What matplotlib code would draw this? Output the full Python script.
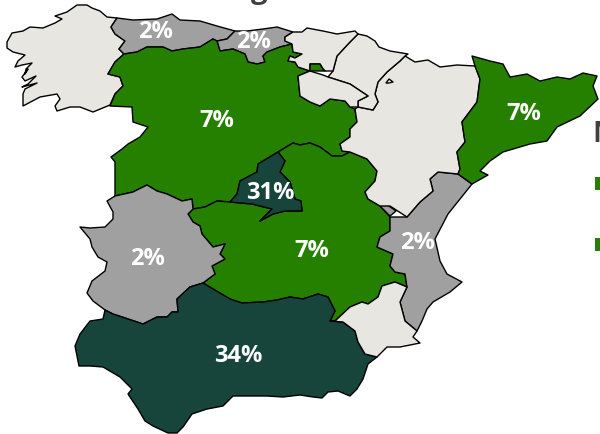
import matplotlib
matplotlib.use("Agg")
import matplotlib.pyplot as plt
from matplotlib.patches import Polygon, Rectangle

GREEN = "#268000"
DARK = "#17453B"
GRAY = "#A0A0A0"
BEIGE = "#E8E6E1"

galicia = [(7,43),(12,34),(23,32),(30,28),(43,29),(55,24),(62,20),(55,17),(67,13),(77,6),(87,6),(92,9),(100,12),(107,18),(117,19),(111,28),(115,35),(125,42),(119,50),(124,55),(115,63),(108,75),(120,78),(123,87),(115,95),(110,106),(93,113),(80,108),(70,108),(57,112),(55,107),(60,100),(57,95),(40,98),(23,107),(23,95),(25,90),(37,84),(22,88),(28,85),(36,77),(25,82),(22,78),(28,70),(25,75),(26,70),(32,64),(22,66),(15,68),(18,62),(25,56),(13,53),(7,49)]
asturias = [(117,19),(133,21),(157,20),(172,15),(180,21),(200,22),(217,27),(235,32),(227,40),(217,42),(213,40),(200,48),(183,50),(172,52),(163,48),(147,48),(137,53),(124,55),(119,50),(125,42),(115,35),(111,28)]
cantabria = [(235,32),(247,32),(263,30),(277,28),(293,33),(285,38),(285,42),(292,45),(280,48),(267,53),(263,57),(265,63),(257,65),(248,63),(245,55),(233,50),(220,52),(217,42),(227,40)]
castilla_leon = [(124,55),(137,53),(147,48),(163,48),(172,52),(183,50),(200,48),(213,40),(217,42),(220,52),(233,50),(245,55),(248,63),(257,65),(265,63),(263,57),(267,53),(280,48),(292,45),(293,53),(302,55),(295,59),(290,57),(288,62),(295,63),(298,68),(310,72),(298,77),(300,97),(310,103),(320,107),(330,100),(345,102),(350,108),(355,110),(357,123),(350,130),(350,138),(340,145),(342,152),(350,153),(342,157),(332,157),(320,148),(310,144),(300,146),(293,144),(278,153),(258,165),(257,173),(240,182),(237,195),(230,203),(217,202),(205,208),(193,210),(192,200),(182,202),(167,195),(157,192),(147,186),(133,193),(115,197),(115,183),(115,163),(111,158),(122,150),(128,145),(140,138),(148,128),(133,123),(132,108),(110,107),(115,95),(123,87),(120,78),(108,75),(115,63)]
madrid = [(278,153),(285,162),(280,173),(290,183),(295,200),(301,202),(302,212),(285,212),(273,215),(260,222),(272,210),(252,205),(230,203),(237,195),(240,182),(257,173),(258,165)]
castilla_mancha = [(193,210),(205,208),(217,202),(230,203),(252,205),(272,210),(260,222),(273,215),(285,212),(302,212),(301,202),(295,200),(290,183),(280,173),(285,162),(278,153),(293,144),(300,146),(310,144),(320,148),(332,157),(342,157),(350,153),(367,160),(377,172),(375,182),(365,193),(368,200),(380,207),(390,218),(390,232),(380,238),(377,248),(393,255),(390,267),(395,273),(405,275),(407,288),(395,283),(382,287),(378,298),(368,305),(362,303),(350,308),(335,322),(330,322),(335,312),(328,298),(318,295),(303,300),(290,298),(277,301),(263,303),(242,304),(230,300),(213,290),(203,284),(215,275),(212,267),(225,260),(220,255),(225,245),(213,248),(202,235),(200,227),(193,223),(188,215)]
extremadura = [(80,228),(90,229),(105,228),(113,220),(113,213),(107,202),(115,197),(133,193),(147,186),(157,192),(167,195),(182,202),(192,200),(193,210),(188,215),(193,223),(200,227),(202,235),(213,248),(225,245),(220,255),(225,260),(212,267),(215,275),(203,284),(190,288),(177,300),(178,313),(172,313),(167,318),(157,318),(143,325),(128,320),(113,315),(105,311),(93,302),(87,294),(92,282),(105,272),(107,263),(98,258),(92,248),(90,240)]
andalucia = [(105,311),(113,315),(128,320),(143,325),(157,318),(167,318),(172,313),(178,313),(177,300),(190,288),(203,284),(213,290),(230,300),(242,304),(263,303),(277,301),(290,298),(303,300),(318,295),(328,298),(335,312),(330,322),(343,323),(355,332),(358,343),(365,355),(377,358),(368,365),(363,380),(357,390),(350,397),(338,392),(328,393),(322,399),(313,398),(300,396),(283,398),(267,397),(252,397),(233,397),(223,407),(207,410),(192,415),(183,428),(177,434),(168,434),(153,427),(145,422),(138,410),(128,395),(132,390),(120,378),(103,368),(90,367),(79,367),(75,347),(80,335),(90,322),(103,320)]
valencia = [(472,185),(460,200),(448,215),(435,240),(440,262),(447,275),(462,283),(450,293),(433,303),(427,310),(422,322),(417,332),(405,322),(400,303),(407,288),(405,275),(395,273),(390,267),(393,255),(377,248),(380,238),(390,232),(390,218),(407,218),(420,203),(433,192),(430,180),(438,173),(458,175)]
ademuz = [(380,207),(386,205),(396,212),(390,217)]
murcia = [(335,322),(350,308),(362,303),(368,305),(378,298),(382,287),(395,283),(407,288),(400,303),(405,322),(417,332),(413,338),(420,344),(400,348),(387,348),(377,358),(365,355),(358,343),(355,332),(343,323),(330,322)]
aragon = [(405,57),(415,63),(428,61),(440,68),(457,66),(475,67),(480,80),(477,103),(462,123),(465,143),(457,153),(460,170),(458,175),(438,173),(430,180),(433,192),(420,203),(407,218),(390,207),(380,207),(368,200),(365,193),(375,182),(377,172),(367,160),(350,153),(342,152),(340,145),(350,138),(350,130),(357,123),(355,110),(358,108),(373,111),(378,103),(375,95),(378,83),(387,73),(400,62)]
cataluna = [(472,57),(490,62),(503,65),(510,78),(527,75),(540,82),(557,78),(570,80),(583,74),(597,77),(593,87),(598,100),(580,117),(557,128),(547,142),(530,145),(503,153),(490,162),(480,172),(488,176),(472,185),(458,175),(460,170),(457,153),(465,143),(462,123),(477,103),(480,80),(475,67)]
navarra = [(358,35),(367,37),(375,42),(379,48),(390,52),(408,55),(405,57),(400,62),(387,73),(378,83),(375,95),(378,103),(373,111),(358,108),(358,102),(368,97),(350,85),(328,78),(333,72),(337,57),(350,43)]
pais_vasco = [(293,33),(302,33),(307,29),(323,32),(337,35),(355,32),(358,35),(350,43),(337,57),(333,72),(325,72),(323,70),(320,65),(310,65),(310,72),(298,68),(295,63),(288,62),(290,57),(295,59),(302,55),(293,53),(292,45),(285,42),(285,38)]
la_rioja = [(298,77),(310,72),(323,76),(328,78),(350,85),(368,97),(358,102),(358,108),(350,108),(345,102),(330,100),(320,107),(310,103),(300,97)]
trevino = [(310,65),(320,65),(323,70),(325,72),(310,72)]
petilla = [(386,84),(389,80),(393,83),(389,84)]

regions = [galicia, asturias, cantabria, castilla_leon, castilla_mancha, madrid, extremadura,
           andalucia, valencia, ademuz, murcia, aragon, cataluna, navarra, pais_vasco, la_rioja, trevino, petilla]
region_colors = [BEIGE, GRAY, GRAY, GREEN, GREEN, DARK, GRAY,
                 DARK, GRAY, GRAY, BEIGE, BEIGE, GREEN, BEIGE, BEIGE, BEIGE, GREEN, BEIGE]

label_texts = ["2%", "2%", "7%", "7%", "31%", "7%", "2%", "2%", "34%"]
label_x = [155, 253, 217, 524, 270, 312, 147, 417, 238]
label_y = [32, 42, 121, 114, 193, 251, 259, 243, 356]

legend_y = [178, 239]

fig = plt.figure(figsize=(6, 4.35), dpi=100)
ax = fig.add_axes([0, 0, 1, 1])
ax.set_xlim(0, 600)
ax.set_ylim(435, 0)
ax.axis("off")

for poly, col in zip(regions, region_colors):
    ax.add_patch(Polygon(poly, closed=True, facecolor=col, edgecolor="black", linewidth=1.0, joinstyle="round"))

for t, x, y in zip(label_texts, label_x, label_y):
    ax.text(x, y, t, color="white", fontsize=17, fontweight="bold", family="Open Sans",
            ha="center", va="center")

for y in legend_y:
    ax.add_patch(Rectangle((595, y), 6, 13, facecolor=GREEN, edgecolor="none"))

ax.text(592, 142, "M", color="#404040", fontsize=21, fontweight="bold", family="Open Sans", ha="left", va="baseline", clip_on=True)
ax.text(259, -2, "g", color="#404040", fontsize=21, fontweight="bold", family="Open Sans", ha="center", va="baseline", clip_on=False)

fig.savefig("out.png", dpi=100)
